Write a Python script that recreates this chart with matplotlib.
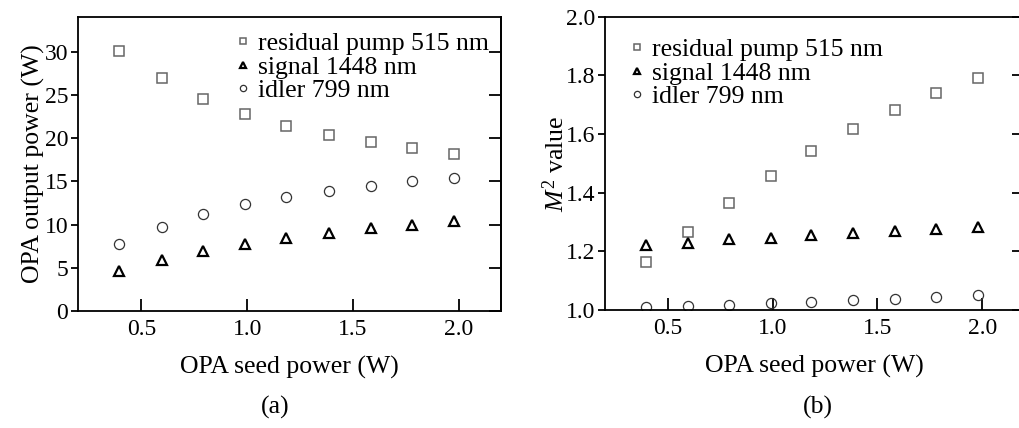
import matplotlib
matplotlib.use("Agg")
import matplotlib.pyplot as plt

# plot parameter setup
plt.rcParams["font.family"] = ["Liberation Serif", "DejaVu Serif"]
plt.rcParams["mathtext.fontset"] = "custom"
plt.rcParams["mathtext.it"] = "Liberation Serif:italic"
plt.rcParams["mathtext.rm"] = "Liberation Serif"
plt.rcParams["axes.linewidth"] = 1.3

# seed power (W)
seed = [0.395, 0.595, 0.79, 0.99, 1.185, 1.385, 1.585, 1.78, 1.98]

# (a) output power (W)
pump_power = [30.1, 26.9, 24.55, 22.8, 21.4, 20.4, 19.5, 18.8, 18.2]
signal_power = [4.6, 5.95, 6.95, 7.8, 8.45, 9.0, 9.55, 10.0, 10.4]
idler_power = [7.7, 9.7, 11.2, 12.35, 13.2, 13.9, 14.5, 15.0, 15.4]

# (b) M^2 value
pump_m2 = [1.165, 1.267, 1.366, 1.458, 1.543, 1.617, 1.682, 1.739, 1.790]
signal_m2 = [1.222, 1.230, 1.241, 1.247, 1.256, 1.262, 1.270, 1.277, 1.284]
idler_m2 = [1.011, 1.015, 1.018, 1.023, 1.028, 1.033, 1.039, 1.045, 1.051]

labels = ["residual pump 515 nm", "signal 1448 nm", "idler 799 nm"]
FS = 17      # tick labels
LFS = 18.5   # axis labels, legend

fig = plt.figure(figsize=(10.2, 4.28), dpi=100)
ax1 = fig.add_axes([0.0765, 0.2734, 0.4147, 0.687])
ax2 = fig.add_axes([0.5931, 0.2757, 0.411, 0.685])


def draw(ax, pump, signal, idler):
    ax.plot(seed, pump, "s", ms=7.5, mfc="none", mec="#666666", mew=1.1,
            label=labels[0])
    ax.plot(seed, signal, "^", ms=6.8, mfc="none", mec="black", mew=1.6,
            label=labels[1])
    ax.plot(seed, idler, "o", ms=7.3, mfc="none", mec="#333333", mew=0.9,
            label=labels[2])
    ax.set_xlim(0.2, 2.2)
    ax.set_xticks([0.5, 1.0, 1.5, 2.0])
    ax.tick_params(axis="x", direction="in", length=9, width=1.3,
                   labelsize=FS, pad=6)
    ax.tick_params(axis="y", direction="out", length=5, width=1.3,
                   labelsize=FS, pad=2)
    ax.set_xlabel("OPA seed power (W)", fontsize=LFS, labelpad=11)
    # right side ticks point inward, no labels
    sec = ax.secondary_yaxis("right")
    sec.tick_params(direction="in", length=9, width=1.3, labelright=False)
    leg = ax.legend(fontsize=LFS, frameon=False, markerscale=0.62,
                    handlelength=0.6, handletextpad=0.28, labelspacing=0.02,
                    borderaxespad=0.2)
    return leg, sec


leg1, sec1 = draw(ax1, pump_power, signal_power, idler_power)
ax1.set_ylim(0, 34)
ax1.set_yticks([0, 5, 10, 15, 20, 25, 30])
sec1.set_yticks([0, 5, 10, 15, 20, 25, 30])
ax1.set_ylabel("OPA output power (W)", fontsize=LFS, labelpad=0)
leg1.set_loc("upper right")
leg1.set_bbox_to_anchor((1.007, 1.0), transform=ax1.transAxes)

leg2, sec2 = draw(ax2, pump_m2, signal_m2, idler_m2)
ax2.set_ylim(1.0, 2.0)
ax2.set_yticks([1.0, 1.2, 1.4, 1.6, 1.8, 2.0])
ax2.set_yticklabels(["1.0", "1.2", "1.4", "1.6", "1.8", "2.0"])
sec2.set_yticks([1.0, 1.2, 1.4, 1.6, 1.8, 2.0])
ax2.set_ylabel("$M^2$ value", fontsize=LFS, labelpad=-2)
leg2.set_loc("upper left")
leg2.set_bbox_to_anchor((0.022, 0.98), transform=ax2.transAxes)

fig.text(0.27, 0.047, "(a)", fontsize=LFS, ha="center", va="center")
fig.text(0.802, 0.047, "(b)", fontsize=LFS, ha="center", va="center")

fig.savefig("out.png", dpi=100)
